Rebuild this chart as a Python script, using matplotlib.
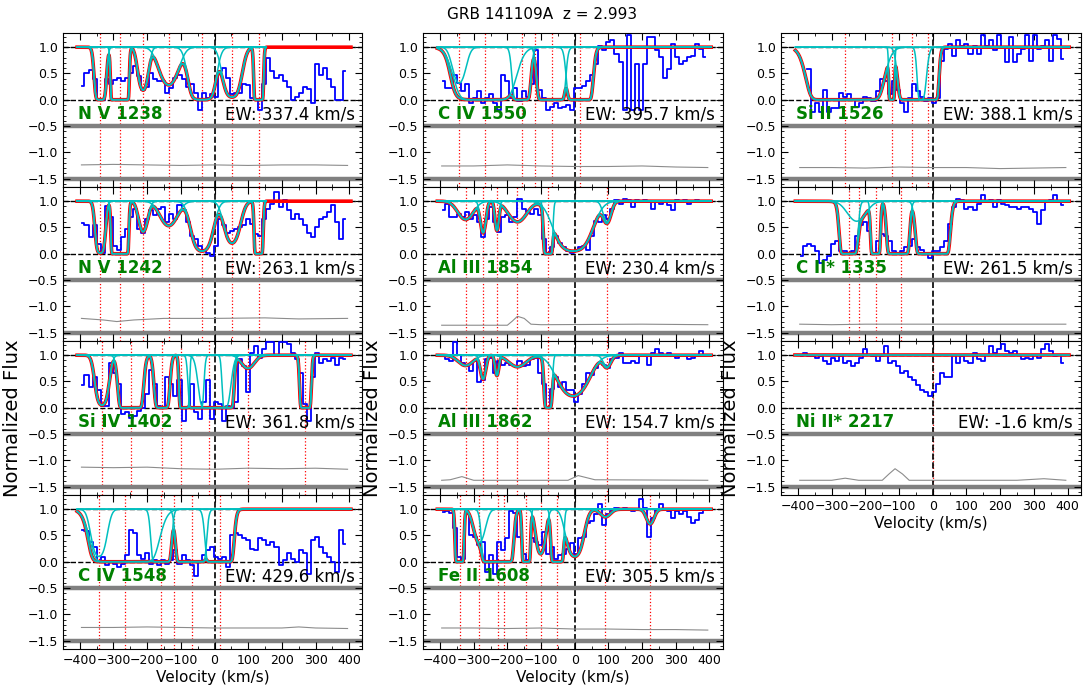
import numpy as np
import matplotlib.pyplot as plt
from matplotlib.ticker import AutoMinorLocator, MultipleLocator

TITLE = 'GRB 141109A  z = 2.993'

# spectral pixels (km/s) shared by every panel, and grid for the fitted profiles
VEL = np.arange(-392, 396, 12)
VMODEL = np.arange(-408, 406, 1.0)

# ---- N V 1238 ----
NV1238_FLUX = [0.26, 0.5, 0.56, 0.39, 0.0, 0.0, 0.4, 0.3, 0.38, 0.42, 0.35, 0.42, 0.5, 0.65,
               0.45, 0.19, 0.25, 0.5, 0.4, 0.35, 0.35, 0.13, 0.22, 0.42, 0.48, 0.4, 0.25, 0.3,
               0.13, -0.19, 0.13, 0.03, 0.1, 0.05, 0.55, 0.61, 0.42, 0.1, 0.13, 0.13, 0.3, 0.28,
               0.03, 0.0, -0.19, 0.3, 0.8, 0.55, 0.42, 0.48, 0.35, 0.25, 0.0, 0.05, 0.13, 0.25,
               0.2, -0.06, 0.68, 0.48, 0.6, 0.4, 0.25, 0.0, 0.0, 0.55]
NV1238_COMPS = [(-339, 9, 12), (-281, 2400, 10), (-212, 1.7, 16), (-136, 1.27, 32),
                (-37, 7.3, 29), (52, 3.0, 25), (131, 80, 7)]
NV1238_LINES = [-339, -280, -212, -136, -37, 52, 131]
NV1238_ERR_V = [-395, -300, -200, -100, 0, 100, 200, 300, 395]
NV1238_ERR = [0.26, 0.27, 0.26, 0.25, 0.26, 0.25, 0.26, 0.26, 0.25]

# ---- N V 1242 ----
NV1242_FLUX = [0.58, 0.54, 0.31, 0.54, 0.18, 0.02, 0.9, 0.7, 0.15, 0.08, 0.31, 0.47, 0.7, 0.86,
               0.47, 0.4, 0.66, 0.83, 0.73, 0.86, 0.89, 0.6, 0.76, 0.66, 0.92, 0.83, 0.6, 0.34,
               0.28, 0.15, 0.08, 0.02, -0.05, 0.15, 0.66, 0.54, 0.4, 0.44, 0.47, 0.5, 0.54, 0.66,
               0.57, 0.37, 0.34, 0.66, 0.86, 0.95, 1.18, 0.89, 1.02, 0.83, 0.66, 0.76, 0.66, 0.54,
               0.4, 0.31, 0.5, 0.66, 0.7, 0.79, 0.92, 0.6, 0.28, 0.66]
NV1242_COMPS = [(-339, 4.5, 12), (-281, 1200, 10), (-212, 0.87, 16), (-136, 0.63, 32),
                (-37, 3.0, 29), (52, 1.6, 25), (131, 40, 7)]
NV1242_LINES = [-339, -280, -212, -136, -37, 52, 131]
NV1242_ERR_V = [-395, -330, -290, -240, -150, 0, 150, 250, 395]
NV1242_ERR = [0.27, 0.24, 0.21, 0.24, 0.27, 0.27, 0.28, 0.26, 0.27]

# ---- Si IV 1402 ----
SIIV_FLUX = [0.43, 0.62, 0.4, 0.59, 0.33, 0.04, 0.04, 0.85, 0.66, 0.46, -0.12, -0.09, -0.19,
             -0.16, -0.06, 0.0, 0.27, 0.72, 0.46, 0.04, 0.0, 0.59, 0.46, 0.23, 0.52, -0.25, 0.0,
             0.46, -0.09, -0.22, 0.1, 0.52, -0.22, 0.1, 0.07, -0.25, 0.04, 0.0, 0.1, 0.92, 0.79,
             0.3, 1.05, 1.18, 0.95, 1.11, 1.25, 1.25, 0.98, 1.25, 1.25, 1.21, 1.05, 0.92, 0.66,
             0.07, -0.25, 0.59, 1.05, 0.85, 0.92, 0.88, 0.95, 0.82, 0.95, 0.92]
SIIV_COMPS = [(-334, 3.0, 18), (-249, 56, 19), (-156, 15, 14), (-90, 40, 8), (-55, 40, 12),
              (0, 28, 26), (40, 20, 10), (99, 0.29, 25), (270, 40, 9)]
SIIV_LINES = [-334, -249, -156, -99, -17, 99, 270]
SIIV_ERR_V = [-395, -300, -200, -100, 0, 100, 200, 300, 395]
SIIV_ERR = [0.37, 0.36, 0.37, 0.34, 0.33, 0.35, 0.34, 0.35, 0.33]

# ---- C IV 1548 ----
CIV1548_FLUX = [0.61, 0.58, 0.38, 0.29, 0.0, 0.09, -0.07, 0.0, -0.04, -0.1, -0.04, 0.12, 0.61,
                0.55, 0.12, 0.06, 0.16, -0.04, 0.03, -0.07, 0.03, -0.04, 0.03, 0.22, -0.04, 0.12,
                0.03, -0.07, -0.27, 0.0, 0.12, 0.22, 0.29, 0.09, 0.06, 0.09, -0.1, 0.51, 0.55,
                0.51, 0.45, 0.42, 0.25, 0.22, 0.45, 0.42, 0.32, 0.38, 0.29, -0.07, 0.03, 0.16,
                0.06, 0.0, 0.22, 0.16, -0.23, 0.42, 0.48, 0.29, 0.16, 0.09, 0.0, -0.2, 0.6, 0.33]
CIV1548_COMPS = [(-343, 2.3, 22), (-267, 30, 55), (-158, 40, 16), (-70, 200, 20), (15, 100, 20)]
CIV1548_LINES = [-343, -267, -158, -119, -67, 15]
CIV1548_ERR_V = [-395, -300, -200, -100, 0, 100, 200, 250, 300, 395]
CIV1548_ERR = [0.25, 0.25, 0.26, 0.25, 0.24, 0.24, 0.24, 0.26, 0.24, 0.23]

# ---- C IV 1550 ----
CIV1550_FLUX = [0.35, 0.23, 0.23, 0.48, 0.32, 0.16, 0.29, -0.06, 0.03, 0.16, -0.06, 0.03, 0.1,
                -0.06, -0.19, 0.48, 0.35, 0.03, 0.23, -0.03, 0.16, 0.06, 0.29, 0.94, 0.19, 0.03,
                -0.19, -0.13, -0.06, -0.16, -0.13, -0.1, -0.19, 0.23, 0.23, 0.26, 0.35, 0.48,
                0.68, 1.03, 0.94, 1.1, 1.13, 0.87, 0.71, -0.19, 1.23, -0.19, 0.68, -0.19, 0.68,
                1.19, 1.19, 0.94, 0.81, 0.42, 0.58, 1.06, 0.81, 0.68, 0.74, 0.81, 0.84, 1.06,
                0.97, 0.81]
CIV1550_COMPS = [(-343, 1.15, 22), (-267, 15, 55), (-158, 20, 16), (-70, 100, 20), (15, 50, 20)]
CIV1550_LINES = [-343, -267, -158, -119, -67, 15]
CIV1550_ERR_V = [-395, -300, -200, -100, 0, 100, 200, 300, 395]
CIV1550_ERR = [0.24, 0.24, 0.26, 0.24, 0.23, 0.23, 0.24, 0.22, 0.21]

# ---- Al III 1854 ----
ALIII1854_FLUX = [0.83, 0.95, 0.7, 0.7, 0.76, 0.7, 0.79, 0.66, 0.73, 0.6, 0.31, 0.66, 0.89,
                  0.6, 0.41, 0.7, 0.73, 0.6, 0.7, 1.05, 0.86, 0.79, 0.76, 0.86, 0.73, 0.28,
                  -0.01, 0.12, 0.34, 0.21, 0.12, 0.05, 0.02, 0.05, 0.12, 0.15, 0.08, 0.34, 0.63,
                  0.6, 0.73, 0.66, 0.86, 1.02, 0.95, 1.05, 1.02, 0.89, 1.02, 0.99, 1.02, 0.99,
                  0.86, 0.99, 0.95, 0.99, 0.92, 0.83, 1.02, 0.99, 1.02, 0.95, 0.99, 1.02, 0.99, 1.0]
ALIII1854_COMPS = [(-324, 0.43, 30), (-272, 0.9, 10), (-231, 0.8, 7), (-170, 0.5, 35),
                   (-79, 20, 8), (-5, 3.0, 50), (96, 0.5, 15)]
ALIII1854_LINES = [-324, -272, -231, -170, -79, 96]
ALIII1854_ERR_V = [-395, -200, -185, -170, -150, -130, -100, 200, 395]
ALIII1854_ERR = [0.14, 0.14, 0.22, 0.31, 0.27, 0.16, 0.15, 0.16, 0.15]

# ---- Al III 1862 ----
ALIII1862_FLUX = [1.0, 0.92, 0.88, 1.25, 1.01, 0.85, 0.82, 0.69, 0.88, 0.49, 0.53, 0.92, 0.95,
                  0.66, 0.88, 0.82, 0.85, 0.82, 0.79, 0.88, 0.79, 0.82, 0.92, 0.95, 0.66, 0.46,
                  0.0, 0.36, 0.59, 0.4, 0.49, 0.33, 0.33, 0.1, 0.27, 0.46, 0.66, 0.62, 0.75, 0.85,
                  0.82, 0.75, 0.92, 0.95, 1.05, 0.85, 0.85, 0.88, 0.85, 1.01, 1.01, 0.82, 1.05,
                  1.11, 1.05, 1.01, 1.05, 1.01, 0.95, 1.01, 0.98, 0.92, 0.95, 1.01, 1.08, 1.01]
ALIII1862_COMPS = [(-324, 0.22, 30), (-272, 0.6, 10), (-231, 0.48, 7), (-170, 0.25, 35),
                   (-79, 10, 8), (-5, 1.5, 50), (96, 0.25, 15)]
ALIII1862_LINES = [-324, -272, -231, -170, -79, 96]
ALIII1862_ERR_V = [-395, -370, -335, -300, -20, 10, 60, 395]
ALIII1862_ERR = [0.12, 0.13, 0.19, 0.12, 0.12, 0.21, 0.13, 0.12]

# ---- Fe II 1608 ----
FEII_FLUX = [0.95, 0.96, 0.93, 0.64, 0.09, 0.06, 0.9, 0.51, 0.48, 0.32, 0.38, -0.2, 0.12, -0.23,
             0.38, 0.22, 0.45, 0.96, 0.93, 0.48, 0.15, 0.03, 0.45, 0.38, 0.32, 0.57, 0.15, 0.28,
             0.06, 0.12, 0.15, 0.25, 0.35, 0.15, 0.45, 0.48, 0.74, 0.77, 0.9, 1.09, 0.7, 0.9,
             0.96, 1.03, 0.99, 1.03, 0.99, 0.96, 0.99, 1.19, 1.03, 0.48, 0.83, 0.99, 1.09, 0.99,
             0.96, 0.83, 0.96, 0.9, 0.96, 0.86, 0.74, 0.8, 0.93, 0.99]
FEII_COMPS = [(-342, 40, 7), (-283, 1.0, 20), (-229, 300, 20), (-144, 30, 7), (-101, 1.9, 15),
              (-52, 40, 10), (0, 2.3, 25), (91, 0.16, 20), (224, 0.33, 15)]
FEII_LINES = [-342, -283, -229, -210, -144, -101, -52, 91, 224]
FEII_ERR_V = [-395, -300, -200, -100, 0, 100, 200, 300, 395]
FEII_ERR = [0.24, 0.24, 0.23, 0.24, 0.22, 0.22, 0.21, 0.21, 0.2]

# ---- Si II 1526 ----
SIII_FLUX = [np.nan, np.nan, 0.58, -0.23, -0.06, -0.23, 0.19, -0.23, -0.16, -0.16, 0.13, 0.06,
             0.1, 0.0, -0.13, -0.06, 0.06, 0.03, -0.03, 0.16, 0.39, 0.35, 0.1, 0.35, 0.19, -0.06,
             -0.23, 0.03, 0.29, 0.16, 0.06, -0.03, 0.03, -0.06, 0.03, 0.74, 0.97, 1.06, 0.84,
             1.13, 1.03, 1.06, 0.87, 1.03, 0.87, 1.23, 1.03, 1.13, 0.94, 1.23, 1.0, 0.71, 1.19,
             0.71, 0.87, 0.97, 1.23, 0.74, 1.23, 0.97, 1.03, 1.13, 0.74, 1.23, 1.16, 0.77]
SIII_COMPS = [(-260, 69, 56), (-122, 20, 5), (-62, 40, 22), (-14, 100, 15)]
SIII_LINES = [-260, -122, -62, -14]
SIII_ERR_V = [-395, -300, -200, -100, 0, 100, 200, 300, 395]
SIII_ERR = [0.21, 0.21, 0.2, 0.22, 0.21, 0.21, 0.19, 0.2, 0.21]

# ---- C II* 1335 ----
CIIS_FLUX = [-0.05, 0.15, 0.18, 0.15, 0.05, -0.17, -0.11, -0.05, 0.18, 0.25, 0.05, 0.05, 0.02,
             0.05, 0.34, 0.54, 0.6, 0.44, 0.02, 0.25, 0.37, 0.34, 0.25, 0.05, -0.01, 0.05, 0.12,
             0.15, 0.28, 0.12, 0.08, -0.01, -0.08, 0.05, 0.05, 0.12, 0.25, 0.57, 0.89, 1.05,
             1.02, 0.86, 0.89, 0.83, 0.95, 1.12, 0.99, 1.02, 0.89, 1.02, 0.95, 0.92, 0.89, 0.89,
             0.86, 0.89, 0.89, 0.86, 0.79, 0.57, 0.83, 0.99, 1.02, 1.12, 0.99, 0.92]
CIIS_COMPS = [(-250, 30, 15), (-226, 0.48, 35), (-170, 30, 8), (-103, 100, 16), (0, 251, 22)]
CIIS_LINES = [-250, -218, -170, -95]
CIIS_ERR_V = [-395, -300, -200, -100, 0, 100, 200, 300, 395]
CIIS_ERR = [0.16, 0.15, 0.16, 0.16, 0.16, 0.16, 0.16, 0.16, 0.16]

# ---- Ni II* 2217 ----
NIII_FLUX = [0.98, 1.05, 0.98, 0.99, 0.95, 0.98, 0.88, 0.84, 0.95, 0.88, 0.98, 0.85, 0.88, 0.79,
             0.85, 0.95, 1.11, 1.01, 0.98, 0.88, 0.98, 1.18, 0.85, 0.88, 0.79, 0.66, 0.69, 0.59,
             0.53, 0.43, 0.33, 0.3, 0.23, 0.3, 0.46, 0.66, 0.59, 0.59, 1.01, 0.85, 0.98, 0.88,
             0.85, 1.05, 0.92, 0.88, 1.01, 1.18, 1.05, 1.11, 1.21, 1.08, 1.05, 1.08, 1.01, 0.92,
             0.95, 0.92, 1.01, 0.95, 1.11, 1.21, 1.08, 0.98, 1.01, 0.85]
NIII_COMPS = []
NIII_LINES = [0]
NIII_ERR_V = [-395, -300, -260, -220, -150, -130, -112, -90, -70, 250, 330, 395]
NIII_ERR = [0.12, 0.12, 0.16, 0.12, 0.12, 0.24, 0.34, 0.24, 0.12, 0.12, 0.15, 0.12]

# panel: (label, EW, column, row, flux, components, lines, err_v, err, fit upper edge)
PANELS = [
    ('N V 1238', 'EW: 337.4 km/s', 0, 0, NV1238_FLUX, NV1238_COMPS, NV1238_LINES, NV1238_ERR_V, NV1238_ERR, 153),
    ('N V 1242', 'EW: 263.1 km/s', 0, 1, NV1242_FLUX, NV1242_COMPS, NV1242_LINES, NV1242_ERR_V, NV1242_ERR, 153),
    ('Si IV 1402', 'EW: 361.8 km/s', 0, 2, SIIV_FLUX, SIIV_COMPS, SIIV_LINES, SIIV_ERR_V, SIIV_ERR, 406),
    ('C IV 1548', 'EW: 429.6 km/s', 0, 3, CIV1548_FLUX, CIV1548_COMPS, CIV1548_LINES, CIV1548_ERR_V, CIV1548_ERR, 406),
    ('C IV 1550', 'EW: 395.7 km/s', 1, 0, CIV1550_FLUX, CIV1550_COMPS, CIV1550_LINES, CIV1550_ERR_V, CIV1550_ERR, 406),
    ('Al III 1854', 'EW: 230.4 km/s', 1, 1, ALIII1854_FLUX, ALIII1854_COMPS, ALIII1854_LINES, ALIII1854_ERR_V, ALIII1854_ERR, 406),
    ('Al III 1862', 'EW: 154.7 km/s', 1, 2, ALIII1862_FLUX, ALIII1862_COMPS, ALIII1862_LINES, ALIII1862_ERR_V, ALIII1862_ERR, 406),
    ('Fe II 1608', 'EW: 305.5 km/s', 1, 3, FEII_FLUX, FEII_COMPS, FEII_LINES, FEII_ERR_V, FEII_ERR, 406),
    ('Si II 1526', 'EW: 388.1 km/s', 2, 0, SIII_FLUX, SIII_COMPS, SIII_LINES, SIII_ERR_V, SIII_ERR, 406),
    ('C II* 1335', 'EW: 261.5 km/s', 2, 1, CIIS_FLUX, CIIS_COMPS, CIIS_LINES, CIIS_ERR_V, CIIS_ERR, 406),
    ('Ni II* 2217', 'EW: -1.6 km/s', 2, 2, NIII_FLUX, NIII_COMPS, NIII_LINES, NIII_ERR_V, NIII_ERR, 406),
]

COL_LEFT = [0.058, 0.390, 0.720]
ROW_BOTTOM = [0.729, 0.5058, 0.2826, 0.0594]
AX_W, AX_H = 0.276, 0.2232
CYAN = (0.0, 0.75, 0.75)

fig = plt.figure(figsize=(10.85, 6.9), dpi=100)
fig.suptitle(TITLE, fontsize=11, y=0.99)

for label, ew, col, row, flux, comps, lines, err_v, err, vmax in PANELS:
    ax = fig.add_axes([COL_LEFT[col], ROW_BOTTOM[row], AX_W, AX_H])
    for v0 in lines:
        ax.axvline(v0, color='r', ls=':', lw=0.9, zorder=1)
    ax.axvline(0, color='k', ls='--', lw=1.2, zorder=1)
    ax.axhline(1, color='k', ls='--', lw=1, zorder=1)
    ax.axhline(0, color='k', ls='--', lw=1, zorder=1)
    ax.axhline(-0.5, color='0.5', lw=3.2, zorder=1)
    ax.axhline(-1.5, color='0.5', lw=3.2, zorder=1)
    ax.plot(err_v, np.array(err) - 1.5, color='0.55', lw=0.8, zorder=2)
    ax.step(VEL, flux, where='mid', color='b', lw=1.3, zorder=3)

    total = np.ones_like(VMODEL)
    profiles = []
    for v0, tau, b in comps:
        prof = np.exp(-tau * np.exp(-((VMODEL - v0) / b) ** 2))
        profiles.append(prof)
        total = total * prof
    ax.plot(VMODEL, total, color='r', lw=2.6, zorder=4)
    inside = VMODEL <= vmax
    for prof in profiles:
        ax.plot(VMODEL[inside], prof[inside], color=CYAN, lw=1.1, zorder=5)
    ax.plot(VMODEL[inside], total[inside], color=CYAN, lw=1.3, zorder=5)

    ax.text(0.05, -0.28, label, transform=ax.get_yaxis_transform(), color='green',
            fontsize=12, fontweight='bold', va='center', ha='left')
    ax.text(0.975, -0.28, ew, transform=ax.get_yaxis_transform(), color='k',
            fontsize=12, va='center', ha='right')

    ax.set_xlim(-450, 439)
    ax.set_ylim(-1.66, 1.27)
    ax.xaxis.set_major_locator(MultipleLocator(100))
    ax.xaxis.set_minor_locator(AutoMinorLocator(2))
    ax.yaxis.set_major_locator(MultipleLocator(0.5))
    ax.yaxis.set_minor_locator(AutoMinorLocator(5))
    ax.tick_params(which='both', direction='in', top=True, right=True, labelsize=9)
    ax.tick_params(which='major', length=5)
    ax.tick_params(which='minor', length=2.5)
    last_row = (col < 2 and row == 3) or (col == 2 and row == 2)
    if last_row:
        ax.set_xlabel('Velocity (km/s)', fontsize=11, labelpad=2)
    else:
        ax.tick_params(labelbottom=False)
    if row == 2:
        ax.set_ylabel('Normalized Flux', fontsize=14)

fig.savefig('out.png', dpi=100)
